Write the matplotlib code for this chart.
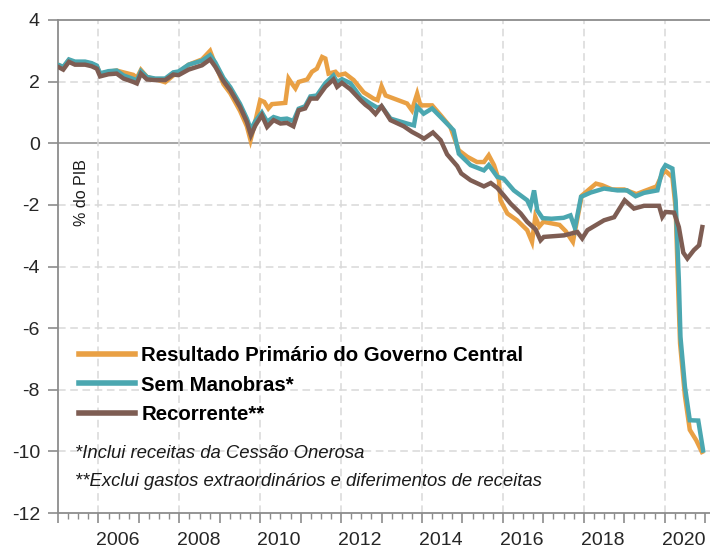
import matplotlib
matplotlib.use("Agg")
import matplotlib.pyplot as plt
import numpy as np

# ---------------- data ----------------
res_x = [2005.00, 2005.13, 2005.27, 2005.42, 2005.67, 2005.83, 2005.96, 2006.04, 2006.25, 2006.45,
         2006.62, 2006.86, 2006.95, 2007.05, 2007.20, 2007.40, 2007.65, 2007.85, 2007.98, 2008.23,
         2008.56, 2008.76, 2008.89, 2009.09, 2009.26, 2009.50, 2009.67, 2009.76, 2009.85, 2010.00,
         2010.10, 2010.20, 2010.29, 2010.62, 2010.70, 2010.78, 2010.87, 2010.95, 2011.16, 2011.28,
         2011.40, 2011.53, 2011.61, 2011.69, 2011.86, 2011.94, 2012.10, 2012.31, 2012.56, 2012.80,
         2012.90, 2013.00, 2013.10, 2013.63, 2013.75, 2013.88, 2013.96, 2014.25, 2014.46, 2014.70,
         2014.91, 2015.12, 2015.36, 2015.53, 2015.65, 2015.78, 2015.90, 2015.94, 2016.11, 2016.35,
         2016.60, 2016.72, 2016.80, 2016.90, 2017.00, 2017.40, 2017.55, 2017.73, 2017.95, 2018.30,
         2018.45, 2018.70, 2019.00, 2019.30, 2019.66, 2019.80, 2019.94, 2020.02, 2020.19, 2020.27,
         2020.33, 2020.38, 2020.50, 2020.62, 2020.78, 2020.92]
res_y = [2.55, 2.45, 2.70, 2.62, 2.62, 2.58, 2.50, 2.25, 2.32, 2.36,
         2.30, 2.22, 2.12, 2.38, 2.15, 2.08, 1.98, 2.20, 2.30, 2.55,
         2.72, 3.00, 2.55, 1.92, 1.62, 1.05, 0.55, 0.10, 0.55, 1.40,
         1.34, 1.13, 1.27, 1.31, 2.10, 1.94, 1.78, 1.99, 2.07, 2.32,
         2.42, 2.80, 2.75, 2.26, 2.32, 2.21, 2.26, 2.05, 1.65, 1.45,
         1.40, 1.85, 1.55, 1.29, 1.07, 1.61, 1.23, 1.23, 0.91, 0.53,
         -0.23, -0.44, -0.61, -0.61, -0.39, -0.71, -1.20, -1.85, -2.28, -2.50,
         -2.82, -3.20, -2.39, -2.70, -2.55, -2.65, -2.85, -3.20, -1.70, -1.31,
         -1.36, -1.50, -1.50, -1.65, -1.47, -1.40, -1.00, -0.90, -1.10, -2.10,
         -4.60, -6.50, -8.20, -9.30, -9.64, -10.02]

sem_x = [2005.00, 2005.13, 2005.27, 2005.42, 2005.67, 2005.83, 2005.96, 2006.04, 2006.25, 2006.45,
         2006.62, 2006.86, 2006.95, 2007.05, 2007.20, 2007.40, 2007.65, 2007.85, 2007.98, 2008.23,
         2008.56, 2008.76, 2008.89, 2009.09, 2009.26, 2009.50, 2009.67, 2009.77, 2009.88, 2010.04,
         2010.17, 2010.33, 2010.50, 2010.66, 2010.82, 2010.95, 2011.11, 2011.24, 2011.40, 2011.61,
         2011.81, 2011.90, 2012.02, 2012.23, 2012.48, 2012.72, 2012.90, 2013.00, 2013.22, 2013.63,
         2013.80, 2013.88, 2014.04, 2014.25, 2014.46, 2014.78, 2014.91, 2015.20, 2015.53, 2015.65,
         2015.86, 2016.02, 2016.27, 2016.60, 2016.68, 2016.77, 2016.85, 2016.98, 2017.20, 2017.50,
         2017.67, 2017.78, 2017.93, 2018.17, 2018.50, 2018.83, 2019.07, 2019.28, 2019.49, 2019.82,
         2019.94, 2020.02, 2020.19, 2020.27, 2020.35, 2020.39, 2020.50, 2020.62, 2020.83, 2020.95]
sem_y = [2.55, 2.48, 2.72, 2.65, 2.65, 2.60, 2.52, 2.27, 2.34, 2.36,
         2.20, 2.09, 2.04, 2.34, 2.15, 2.10, 2.10, 2.30, 2.33, 2.55,
         2.68, 2.86, 2.62, 2.12, 1.82, 1.28, 0.80, 0.45, 0.72, 1.00,
         0.70, 0.85, 0.78, 0.80, 0.72, 1.12, 1.20, 1.52, 1.55, 1.95,
         2.20, 1.98, 2.08, 1.95, 1.50, 1.29, 1.15, 1.20, 0.80, 0.64,
         0.58, 1.18, 0.96, 1.13, 0.85, 0.42, -0.34, -0.71, -0.88, -0.71,
         -1.09, -1.15, -1.53, -1.85, -2.07, -1.53, -2.18, -2.43, -2.45, -2.42,
         -2.34, -2.75, -1.74, -1.60, -1.47, -1.53, -1.53, -1.72, -1.61, -1.53,
         -0.88, -0.71, -0.82, -1.85, -4.45, -6.29, -7.90, -8.99, -9.00, -9.97]

rec_x = [2005.00, 2005.13, 2005.27, 2005.42, 2005.67, 2005.83, 2005.96, 2006.04, 2006.25, 2006.45,
         2006.62, 2006.86, 2006.95, 2007.05, 2007.20, 2007.40, 2007.65, 2007.85, 2007.98, 2008.23,
         2008.56, 2008.76, 2008.89, 2009.09, 2009.26, 2009.50, 2009.67, 2009.77, 2009.88, 2010.04,
         2010.17, 2010.33, 2010.50, 2010.66, 2010.82, 2010.95, 2011.11, 2011.24, 2011.40, 2011.61,
         2011.81, 2011.90, 2012.02, 2012.23, 2012.48, 2012.60, 2012.72, 2012.85, 2013.00, 2013.22,
         2013.55, 2013.75, 2013.92, 2014.05, 2014.27, 2014.46, 2014.62, 2014.87, 2014.97, 2015.20,
         2015.53, 2015.70, 2015.86, 2016.02, 2016.19, 2016.44, 2016.60, 2016.81, 2016.93, 2017.01,
         2017.51, 2017.84, 2017.96, 2018.09, 2018.50, 2018.75, 2019.01, 2019.24, 2019.49, 2019.86,
         2019.94, 2020.02, 2020.23, 2020.35, 2020.46, 2020.56, 2020.72, 2020.85, 2020.93]
rec_y = [2.48, 2.39, 2.64, 2.55, 2.55, 2.50, 2.42, 2.17, 2.24, 2.26,
         2.10, 1.99, 1.94, 2.26, 2.07, 2.05, 2.05, 2.23, 2.21, 2.39,
         2.53, 2.72, 2.48, 2.02, 1.72, 1.18, 0.69, 0.26, 0.58, 0.91,
         0.53, 0.75, 0.64, 0.66, 0.55, 1.07, 1.13, 1.45, 1.45, 1.83,
         2.07, 1.83, 1.96, 1.75, 1.40, 1.25, 1.13, 0.95, 1.20, 0.75,
         0.55, 0.37, 0.25, 0.15, 0.35, 0.10, -0.36, -0.74, -0.98, -1.20,
         -1.40, -1.29, -1.45, -1.69, -1.96, -2.28, -2.55, -2.80, -3.15, -3.04,
         -2.99, -2.88, -3.09, -2.82, -2.50, -2.40, -1.85, -2.12, -2.03, -2.03,
         -2.39, -2.23, -2.25, -2.72, -3.55, -3.74, -3.47, -3.31, -2.72]

series_names = ["Resultado Primário do Governo Central", "Sem Manobras*", "Recorrente**"]
series_colors = ["#E9A044", "#4BA7B0", "#7E5D53"]
year_labels = ["2006", "2008", "2010", "2012", "2014", "2016", "2018", "2020"]
y_ticks = [4, 2, 0, -2, -4, -6, -8, -10, -12]
footnotes = ["*Inclui receitas da Cessão Onerosa",
             "**Exclui gastos extraordinários e diferimentos de receitas"]

# ---------------- figure ----------------
plt.rcParams['font.family'] = ['Liberation Sans', 'DejaVu Sans']
W, H = 710, 551
fig = plt.figure(figsize=(W / 100, H / 100), dpi=100)
ax = fig.add_axes([58 / W, 1 - 513 / H, (W - 58) / W, (513 - 20) / H])

ax.set_xlim(2005.0, 2021.12)
ax.set_ylim(-12, 4)

# grid
for yv in y_ticks:
    if yv == 0:
        ax.axhline(yv, color="#A6A6A6", lw=1.4, zorder=1)
    elif yv not in (4, -12):
        ax.axhline(yv, color="#D9D9D9", lw=1.1, ls=(0, (5, 3)), zorder=1)
for yr in range(2006, 2021, 2):
    ax.axvline(yr, color="#D9D9D9", lw=1.1, ls=(0, (5, 3)), zorder=1)

lw = 3.2
ax.plot(res_x, res_y, color=series_colors[0], lw=lw, label=series_names[0], zorder=3,
        solid_joinstyle='miter')
ax.plot(sem_x, sem_y, color=series_colors[1], lw=lw, label=series_names[1], zorder=4,
        solid_joinstyle='miter')
ax.plot(rec_x, rec_y, color=series_colors[2], lw=lw, label=series_names[2], zorder=5,
        solid_joinstyle='miter')

# spines
for s in ["left", "top", "bottom"]:
    ax.spines[s].set_color("#8C8C8C")
    ax.spines[s].set_linewidth(1.3)
ax.spines["right"].set_visible(False)

# y ticks
ax.set_yticks(y_ticks)
ax.set_yticklabels([str(v) if v >= 0 else "-" + str(-v) for v in y_ticks])
ax.tick_params(axis="y", direction="out", length=7, width=1.2, color="#8C8C8C",
               pad=6, labelsize=14, labelcolor="#262626")

# x ticks: yearly major, quarterly minor, labels centred in the year
ax.set_xticks(np.arange(2005, 2022))
ax.set_xticks(np.arange(2005, 2021.2, 0.25), minor=True)
ax.tick_params(axis="x", which="major", direction="out", length=7.5, width=1.2,
               color="#8C8C8C", labelbottom=False)
ax.tick_params(axis="x", which="minor", direction="out", length=4.5, width=1.0,
               color="#8C8C8C")
sec = ax.secondary_xaxis("bottom")
sec.set_xticks([int(t) + 0.47 for t in year_labels], year_labels)
sec.tick_params(length=0, pad=14, labelsize=14, labelcolor="#262626")
sec.spines["bottom"].set_visible(False)

# y label inside the plot
ax.text((82 - 58) / (W - 58), (513 - 193) / 493, "% do PIB", transform=ax.transAxes,
        rotation=90, ha="center", va="center", fontsize=11.5, color="#1a1a1a")

# legend
leg = ax.legend(loc="upper left", bbox_to_anchor=((79 - 58) / (W - 58), (513 - 346) / 493),
                frameon=False, prop={"weight": "bold", "size": 14.7},
                handlelength=2.75, handletextpad=0.3, labelspacing=0.52,
                borderaxespad=0, borderpad=0)
for line in leg.get_lines():
    line.set_linewidth(4.0)

# footnotes
for i, t in enumerate(footnotes):
    ax.text((75 - 58) / (W - 58), (513 - (454 + 28 * i)) / 493, t, transform=ax.transAxes,
            ha="left", va="center", fontsize=13.3, style="italic", color="#1a1a1a")

fig.savefig("out.png", dpi=100)
